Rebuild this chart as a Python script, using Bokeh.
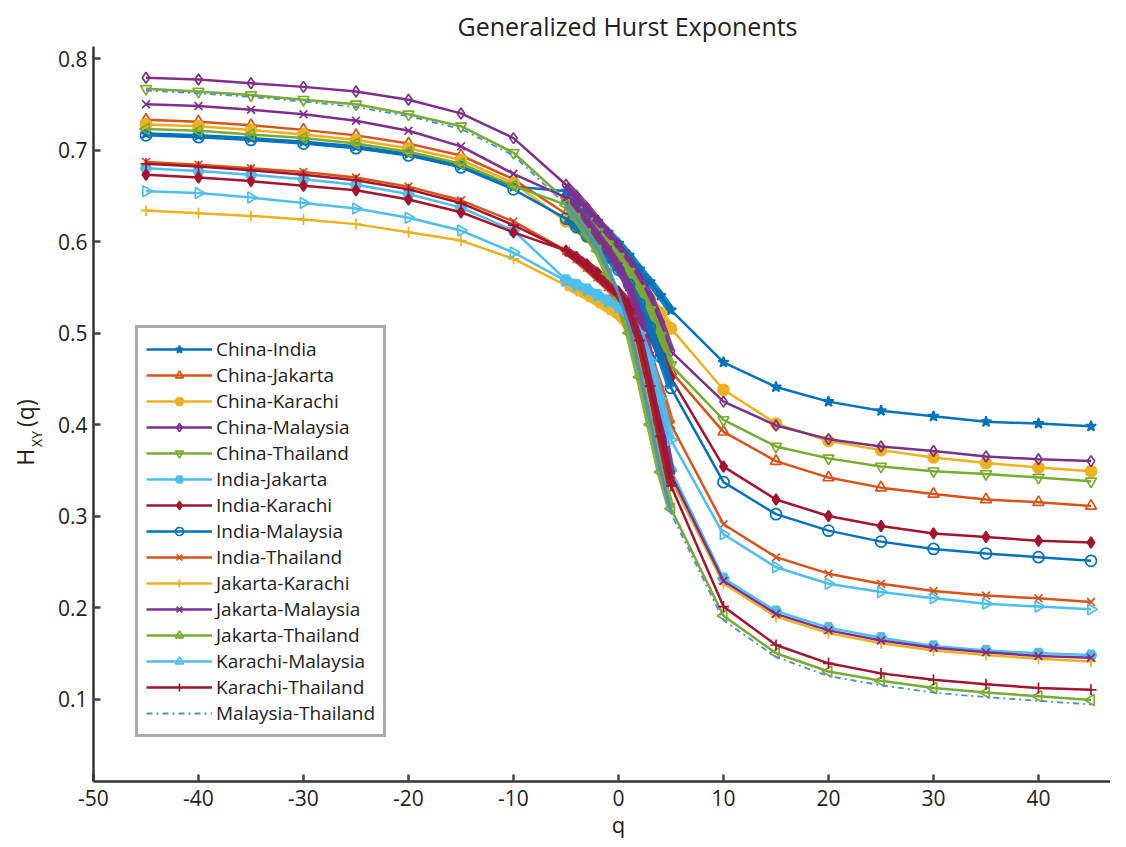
from math import pi
from bokeh.plotting import figure
from bokeh.models import Range1d, Label, Legend, LegendItem, FixedTicker
from bokeh.embed import file_html
from bokeh.resources import INLINE

FONT = "Open Sans"

q_values = [-45, -40, -35, -30, -25, -20, -15, -10,
            -5, -4, -3, -2, -1, 0, 1, 2, 3, 4, 5,
            10, 15, 20, 25, 30, 35, 40, 45]

x_ticks = [-50, -40, -30, -20, -10, 0, 10, 20, 30, 40]
x_tick_labels = ["-50", "-40", "-30", "-20", "-10", "0", "10", "20", "30", "40"]
y_ticks = [0.1, 0.2, 0.3, 0.4, 0.5, 0.6, 0.7, 0.8]
y_tick_labels = ["0.1", "0.2", "0.3", "0.4", "0.5", "0.6", "0.7", "0.8"]

series_names = ["China-India", "China-Jakarta", "China-Karachi", "China-Malaysia",
                "China-Thailand", "India-Jakarta", "India-Karachi", "India-Malaysia",
                "India-Thailand", "Jakarta-Karachi", "Jakarta-Malaysia", "Jakarta-Thailand",
                "Karachi-Malaysia", "Karachi-Thailand", "Malaysia-Thailand"]

china_india = [.718, .716, .713, .709, .704, .696, .683, .660,
               .655, .645, .633, .622, .610, .598, .585, .570, .556, .541, .525,
               .468, .441, .425, .415, .409, .403, .401, .398]
china_jakarta = [.733, .731, .727, .722, .716, .707, .694, .668,
                 .630, .622, .611, .600, .588, .575, .558, .538, .516, .488, .458,
                 .392, .360, .342, .331, .324, .318, .315, .311]
china_karachi = [.728, .726, .722, .717, .711, .702, .689, .664,
                 .622, .615, .605, .595, .585, .573, .562, .550, .537, .522, .505,
                 .438, .401, .382, .372, .364, .358, .353, .349]
china_malaysia = [.779, .777, .773, .769, .764, .755, .740, .713,
                  .662, .650, .637, .623, .609, .594, .578, .560, .540, .512, .480,
                  .425, .399, .384, .376, .371, .365, .362, .360]
china_thailand = [.767, .764, .760, .755, .750, .739, .726, .697,
                  .645, .634, .622, .610, .597, .583, .567, .548, .525, .497, .465,
                  .405, .376, .363, .354, .349, .346, .342, .338]
india_jakarta = [.680, .677, .673, .668, .662, .652, .637, .612,
                 .558, .553, .548, .542, .536, .530, .518, .497, .462, .405, .350,
                 .232, .196, .178, .167, .158, .153, .150, .148]
india_karachi = [.673, .670, .666, .661, .656, .646, .632, .610,
                 .590, .583, .575, .566, .556, .545, .533, .518, .500, .477, .451,
                 .354, .318, .300, .289, .281, .277, .273, .271]
india_malaysia = [.716, .714, .711, .707, .702, .694, .681, .657,
                  .625, .616, .606, .595, .583, .569, .553, .532, .506, .474, .440,
                  .337, .302, .284, .272, .264, .259, .255, .251]
india_thailand = [.687, .684, .680, .676, .670, .660, .645, .622,
                  .590, .581, .571, .561, .550, .538, .522, .500, .472, .438, .400,
                  .291, .255, .237, .226, .218, .213, .210, .206]
jakarta_karachi = [.634, .631, .628, .624, .619, .610, .601, .581,
                   .552, .546, .540, .533, .526, .518, .505, .482, .445, .393, .340,
                   .226, .190, .172, .161, .153, .148, .144, .141]
jakarta_malaysia = [.750, .748, .744, .739, .732, .721, .704, .674,
                    .648, .636, .622, .607, .591, .573, .550, .518, .475, .412, .345,
                    .229, .193, .175, .164, .156, .151, .147, .145]
jakarta_thailand = [.723, .721, .717, .713, .707, .698, .685, .661,
                    .640, .625, .608, .590, .565, .537, .500, .452, .400, .348, .308,
                    .191, .150, .130, .120, .112, .107, .103, .099]
karachi_malaysia = [.655, .653, .648, .642, .636, .626, .612, .588,
                    .557, .552, .547, .541, .535, .528, .518, .500, .470, .428, .383,
                    .280, .244, .226, .217, .210, .204, .201, .198]
karachi_thailand = [.685, .682, .678, .673, .667, .657, .642, .618,
                    .590, .582, .573, .562, .552, .542, .525, .492, .442, .387, .333,
                    .201, .159, .139, .128, .121, .116, .112, .110]
malaysia_thailand = [.765, .762, .758, .753, .747, .737, .723, .694,
                     .640, .626, .610, .592, .570, .543, .507, .460, .405, .350, .303,
                     .186, .146, .125, .115, .107, .102, .098, .094]

all_series = [china_india, china_jakarta, china_karachi, china_malaysia, china_thailand,
              india_jakarta, india_karachi, india_malaysia, india_thailand, jakarta_karachi,
              jakarta_malaysia, jakarta_thailand, karachi_malaysia, karachi_thailand,
              malaysia_thailand]

BLUE, ORANGE, YELLOW, PURPLE, GREEN, LBLUE, DRED = (
    "#0072BD", "#D95319", "#EDB120", "#7E2F8E", "#77AC30", "#4DBEEE", "#A2142F")

# (color, marker, filled, angle)
styles = [
    (BLUE, "star", True, 0),
    (ORANGE, "triangle", False, 0),
    (YELLOW, "circle", True, 0),
    (PURPLE, "diamond", False, 0),
    (GREEN, "inverted_triangle", False, 0),
    (LBLUE, "hex", True, 0),
    (DRED, "diamond", True, 0),
    (BLUE, "circle", False, 0),
    (ORANGE, "x", False, 0),
    (YELLOW, "cross", False, 0),
    (PURPLE, "x", False, 0),
    (GREEN, "triangle", False, pi / 2),
    (LBLUE, "triangle", False, -pi / 2),
    (DRED, "cross", False, 0),
    ("#4a8fd4", None, False, 0),
]

X_MIN, X_MAX = -58.857, 46.857
Y_MIN, Y_MAX = -0.05355, 0.8634
AX_X0, AX_Y0, AX_Y1 = -50, 0.0102, 0.813

p = figure(width=1110, height=839, output_backend="svg", toolbar_location=None,
           x_range=Range1d(X_MIN, X_MAX), y_range=Range1d(Y_MIN, Y_MAX),
           min_border=0)
p.outline_line_color = None
p.xgrid.visible = False
p.ygrid.visible = False
p.background_fill_color = "white"
p.border_fill_color = "white"

for ax in (p.xaxis, p.yaxis):
    ax.axis_line_width = 2.5
    ax.axis_line_color = "#333333"
    ax.major_tick_in = 7
    ax.major_tick_out = 0
    ax.major_tick_line_width = 2.5
    ax.major_tick_line_color = "#444444"
    ax.minor_tick_line_color = None
    ax.major_label_text_font = FONT
    ax.major_label_text_font_size = "21px"
    ax.major_label_text_color = "#222222"

p.xaxis.fixed_location = AX_Y0
p.yaxis.fixed_location = AX_X0
p.xaxis.bounds = (AX_X0, X_MAX)
p.yaxis.bounds = (AX_Y0, AX_Y1)
p.xaxis.ticker = FixedTicker(ticks=x_ticks)
p.yaxis.ticker = FixedTicker(ticks=y_ticks)
p.xaxis.major_label_overrides = dict(zip(x_ticks, x_tick_labels))
p.yaxis.major_label_overrides = dict(zip(y_ticks, y_tick_labels))
p.xaxis.major_label_standoff = 9
p.yaxis.major_label_standoff = 6

items = []
for name, ys, (color, marker, filled, angle) in zip(series_names, all_series, styles):
    renderers = []
    if marker is None:
        ln = p.line(q_values, ys, line_color=color, line_width=1.8, line_dash="dashdot")
        renderers.append(ln)
    else:
        ln = p.line(q_values, ys, line_color=color, line_width=2.5)
        renderers.append(ln)
        sc = p.scatter(q_values, ys, marker=marker, size=11, angle=angle,
                       line_color=color, line_width=1.7,
                       fill_color=color if filled else "white",
                       fill_alpha=1.0 if filled else 0.0)
        renderers.append(sc)
    # dense central region drawn as a thick band
    qc = [q for q in q_values if -5 <= q <= 5]
    yc = [y for q, y in zip(q_values, ys) if -5 <= q <= 5]
    p.line(qc, yc, line_color=color, line_width=8 if marker else 3, line_alpha=0.9)
    items.append(LegendItem(label=name, renderers=renderers))

legend = Legend(items=items, location=(135, 102), orientation="vertical",
                label_text_font=FONT, label_text_font_size="19px",
                label_text_color="#222222",
                glyph_width=66, glyph_height=20, label_height=20,
                label_standoff=4, spacing=0, padding=8, margin=0,
                border_line_color="#555555", border_line_width=3,
                background_fill_color="white", background_fill_alpha=1.0)
p.add_layout(legend)

txt = dict(text_font=FONT, text_color="#222222")
# title
p.add_layout(Label(x=-15.33, y=0.835, text="Generalized Hurst Exponents",
                   text_font_size="25px", text_align="left", text_baseline="middle", **txt))
# x axis title
p.add_layout(Label(x=0, y=-0.0361, text="q", text_font_size="22px",
                   text_align="center", text_baseline="alphabetic", **txt))
# y axis title H_XY(q), rotated
rot = dict(angle=pi / 2, text_baseline="middle", text_align="left", **txt)
p.add_layout(Label(x=-56.57, y=0.355, text="H", text_font_size="23px", **rot))
p.add_layout(Label(x=-55.45, y=0.3755, text="XY", text_font_size="14px", **rot))
p.add_layout(Label(x=-56.57, y=0.3973, text="(q)", text_font_size="23px", **rot))

open("out.html", "w").write(file_html(p, INLINE))
